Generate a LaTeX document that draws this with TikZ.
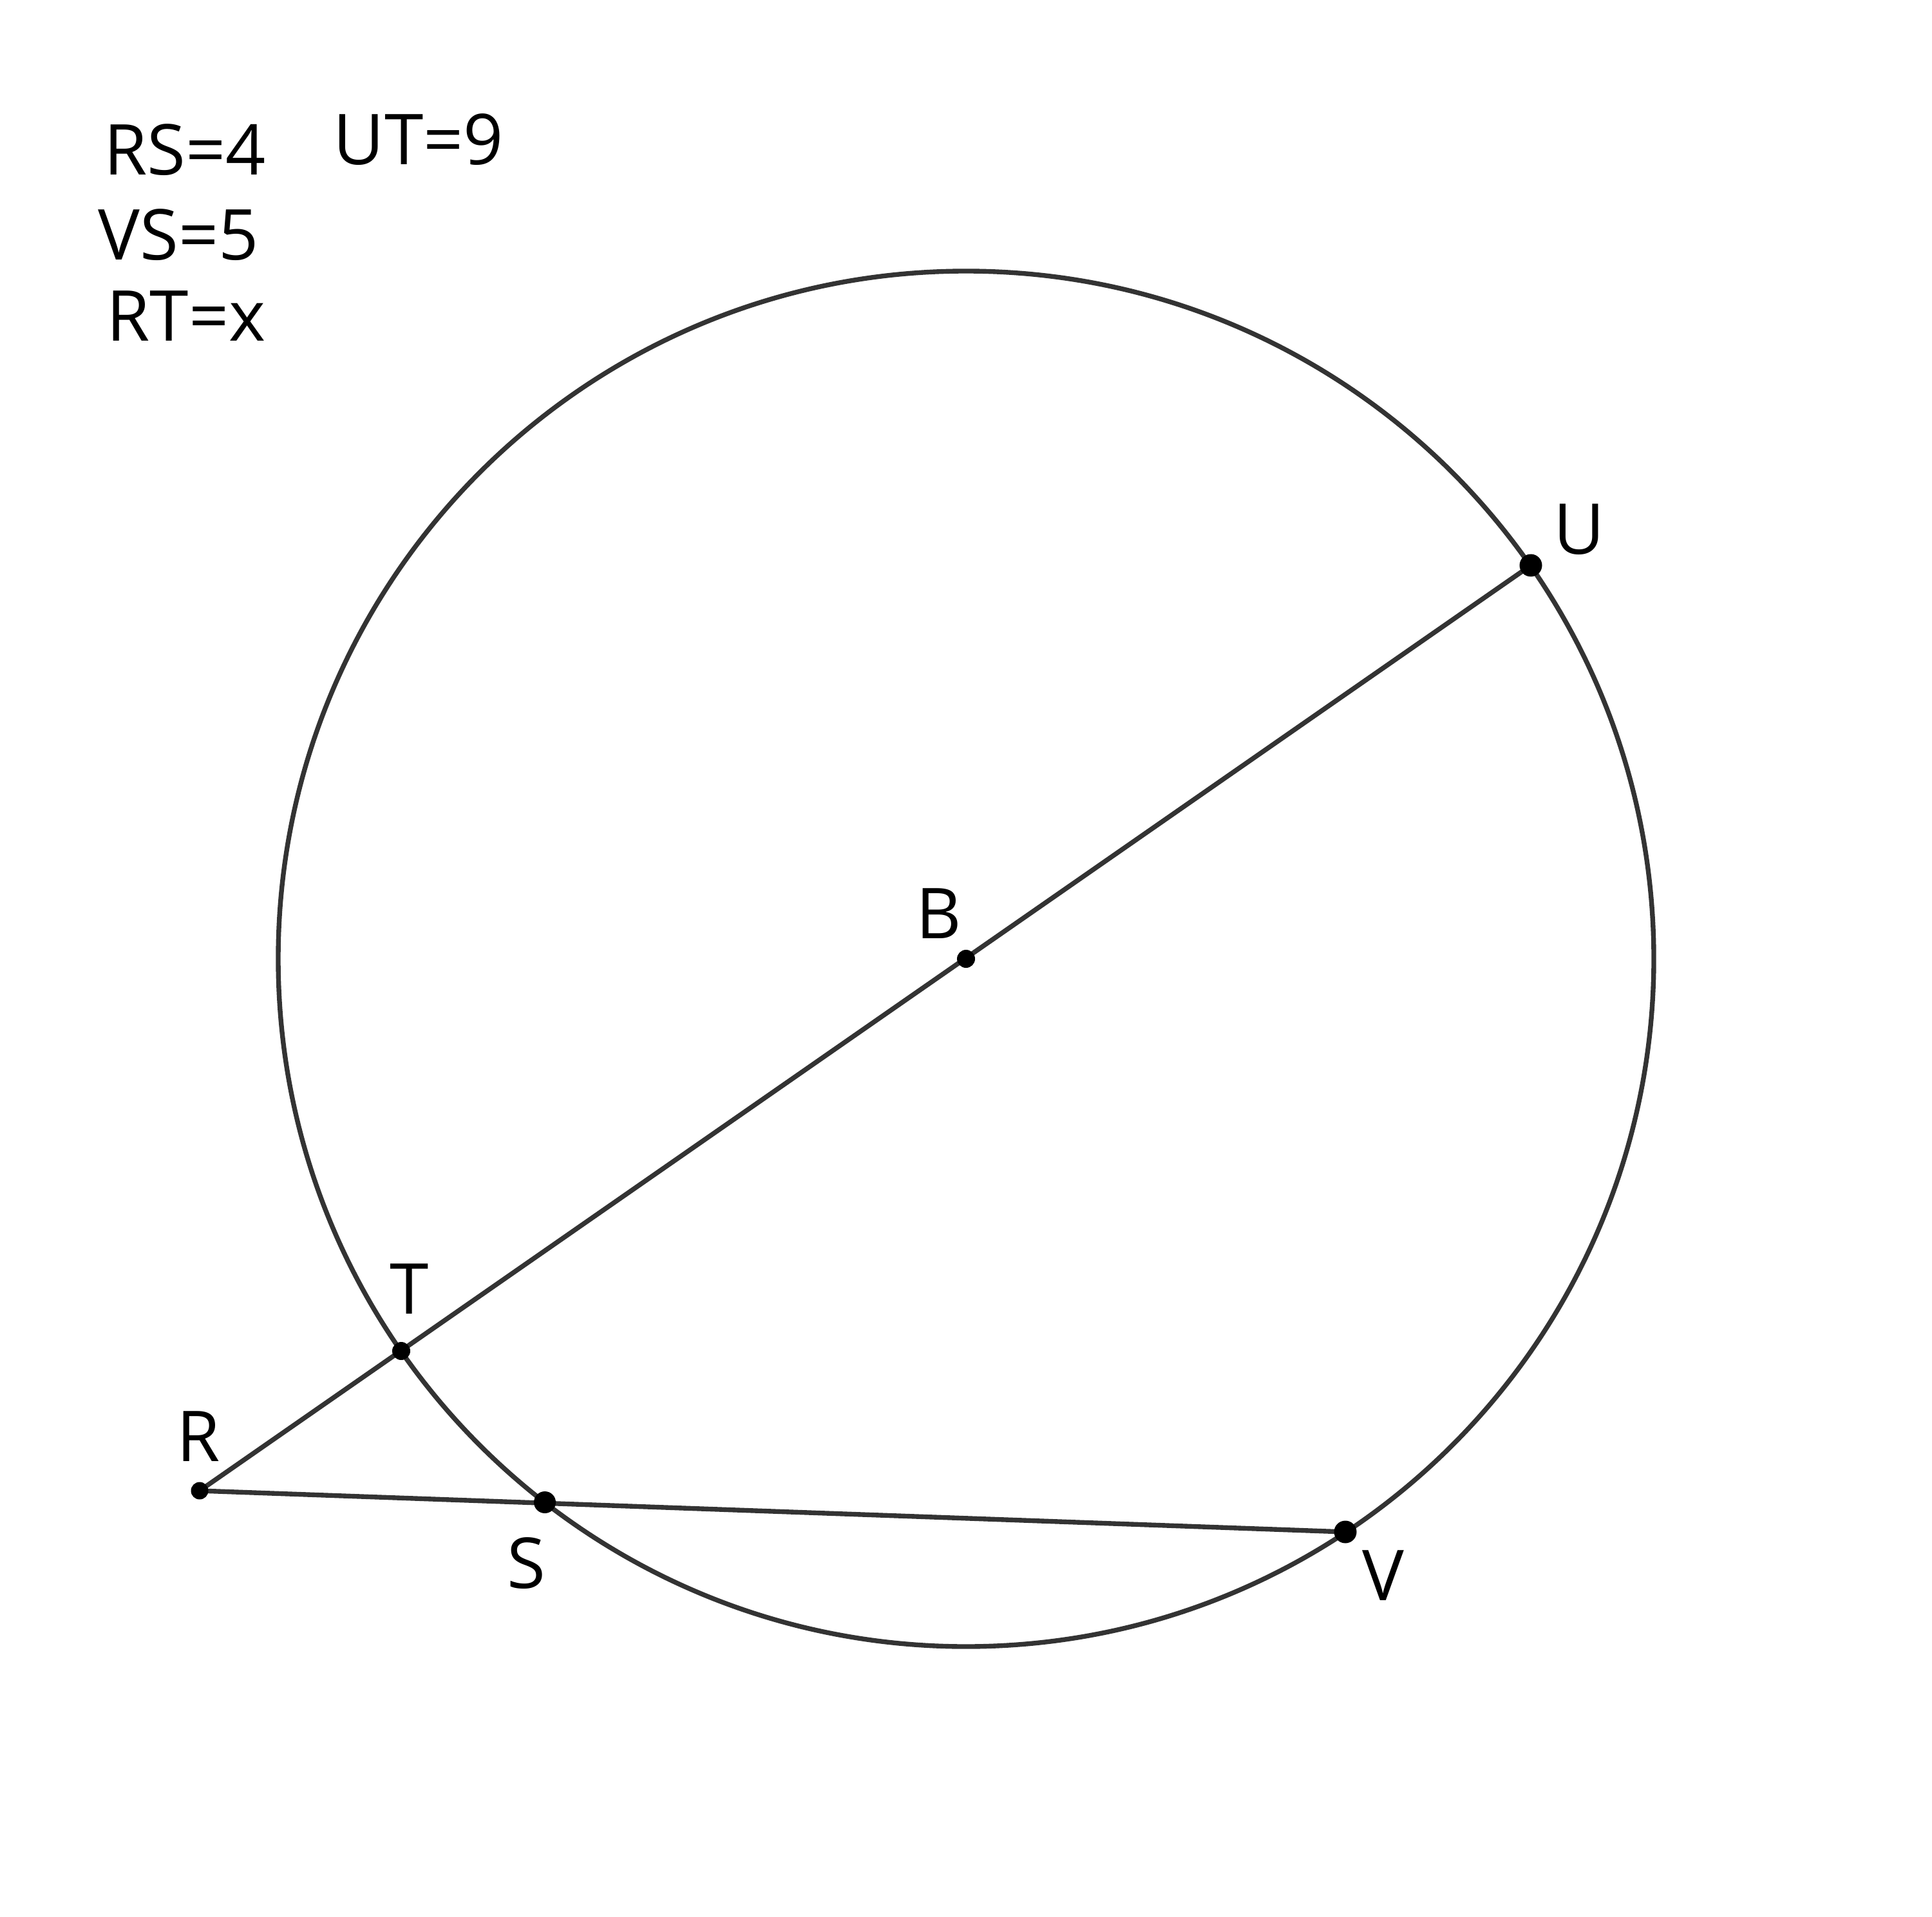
\documentclass[tikz,border=0pt]{standalone}
\usepackage{fontspec}
\setmainfont{Open Sans}
\tikzset{
  geoline/.style={draw=black!80,line width=2.1pt},
  ptdot/.style={circle,fill=black,inner sep=0pt,minimum size=#1},
  ptlabel/.style={inner sep=0pt,font=\fontsize{31}{37}\selectfont},
  given/.style={inner sep=0pt,anchor=base,font=\fontsize{31}{37}\selectfont}
}
\begin{document}
\begin{tikzpicture}
\useasboundingbox (0,0) rectangle (30,-29.77);
% points
\coordinate (B) at (15.00,-14.89);
\coordinate (U) at (23.77,-8.78);
\coordinate (T) at (6.23,-20.98);
\coordinate (R) at (3.10,-23.15);
\coordinate (S) at (8.46,-23.33);
\coordinate (V) at (20.89,-23.79);
% circle and secants
\draw[geoline] (B) circle (10.68);
\draw[geoline] (R) -- (U);
\draw[geoline] (R) -- (V);
% dots
\node[ptdot=0.35cm] (dU) at (U) {};
\node[ptdot=0.35cm] (dV) at (V) {};
\node[ptdot=0.34cm] (dS) at (S) {};
\node[ptdot=0.28cm] (dT) at (T) {};
\node[ptdot=0.28cm] (dB) at (B) {};
\node[ptdot=0.27cm] (dR) at (R) {};
% point labels
\node[ptlabel] (lU) at (24.52,-8.22) {U};
\node[ptlabel] (lB) at (14.58,-14.19) {B};
\node[ptlabel] (lT) at (6.36,-20.02) {T};
\node[ptlabel] (lR) at (3.08,-22.31) {R};
\node[ptlabel] (lS) at (8.17,-24.28) {S};
\node[ptlabel] (lV) at (21.48,-24.47) {V};
% given lengths
\node[given] (gRS) at (2.87,-2.72) {RS=4};
\node[given] (gUT) at (6.50,-2.56) {UT=9};
\node[given] (gVS) at (2.77,-4.04) {VS=5};
\node[given] (gRT) at (2.89,-5.30) {RT=x};
\end{tikzpicture}
\end{document}
